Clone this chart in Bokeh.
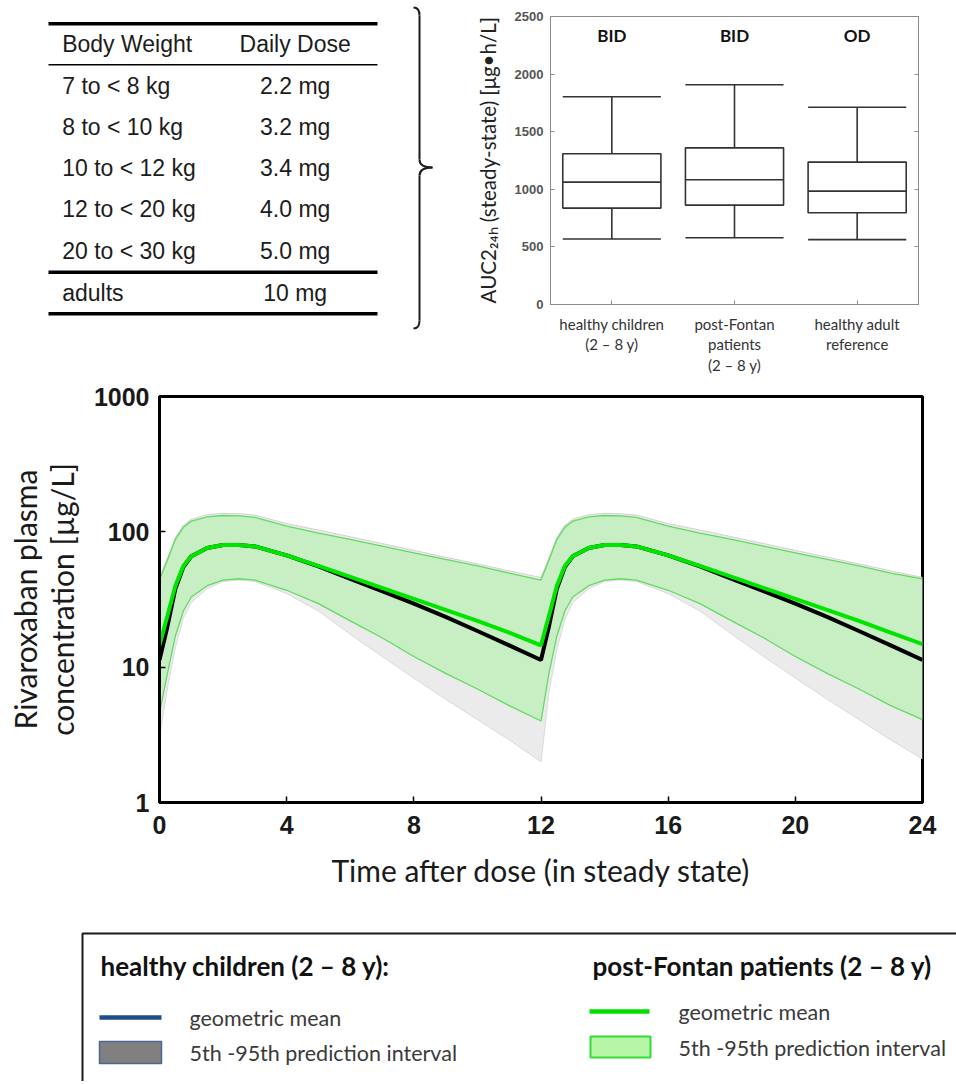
from bokeh.plotting import figure
from bokeh.layouts import column, row
from bokeh.models import (Range1d, FactorRange, ColumnDataSource, FixedTicker,
                          LinearAxis, PrintfTickFormatter)
from bokeh.transform import dodge
from bokeh.core.properties import value
from bokeh.embed import file_html
from bokeh.resources import INLINE

# ---------------- data ----------------
table_header = ["Body Weight", "Daily Dose"]
body_weights = ["7 to < 8 kg", "8 to < 10 kg", "10 to < 12 kg", "12 to < 20 kg", "20 to < 30 kg", "adults"]
daily_doses = ["2.2 mg", "3.2 mg", "3.4 mg", "4.0 mg", "5.0 mg", "10 mg"]

groups = ["healthy children\n(2 – 8 y)", "post-Fontan\npatients\n(2 – 8 y)", "healthy adult\nreference"]
regimens = ["BID", "BID", "OD"]
whisker_low = [569, 580, 563]
q1 = [837, 863, 797]
median = [1062, 1083, 984]
q3 = [1308, 1360, 1236]
whisker_high = [1804, 1908, 1712]
auc_ticks = [0, 500, 1000, 1500, 2000, 2500]

time_h = [0, 0.25, 0.5, 0.75, 1, 1.5, 2, 2.5, 3, 4, 5, 6, 7, 8, 9, 10, 11, 12,
          12.25, 12.5, 12.75, 13, 13.5, 14, 14.5, 15, 16, 17, 18, 19, 20, 21, 22, 23, 24]
hc_mean = [11.3, 20, 38, 55, 66, 76, 80, 80, 78, 67, 55.5, 45, 36.5, 29.5, 23.5, 18.5, 14.5, 11.3,
           20, 38, 55, 66, 76, 80, 80, 78, 67, 55.5, 45, 36.5, 29.5, 23.5, 18.5, 14.5, 11.3]
hc_p5 = [3.0, 7, 14, 23, 30, 38, 43, 44, 43, 35, 26, 17.5, 12, 8.3, 5.8, 4.1, 2.9, 2.0,
         6.5, 13.5, 22.5, 30, 38, 43, 44, 43, 35, 26, 17.5, 12, 8.3, 5.8, 4.1, 2.9, 2.1]
hc_p95 = [46, 64, 91, 112, 124, 134, 137, 136, 133, 115, 103, 92, 82, 73, 65, 58, 51.5, 46,
          64, 91, 112, 124, 134, 137, 136, 133, 115, 103, 92, 82, 73, 65, 58, 51.5, 46]
pf_mean = [14.5, 24, 40, 56, 66, 76, 80, 80, 78, 67, 56, 46.5, 38.5, 32, 26.5, 22, 18, 14.5,
           24, 40, 56, 66, 76, 80, 80, 78, 67, 56, 46.5, 38.5, 32, 26.5, 22, 18, 14.8]
pf_p5 = [4.6, 9, 17, 26, 33, 40, 44, 45, 44, 37, 29.5, 22, 16.5, 12, 9, 6.9, 5.2, 4.0,
         9, 17, 26, 33, 40, 44, 45, 44, 37, 29.5, 22, 16.5, 12, 9, 6.9, 5.2, 4.1]
pf_p95 = [44, 62, 88, 108, 120, 129, 132, 131, 128, 110, 98, 88, 78.5, 70, 62.5, 56, 49.5, 44,
          62, 88, 108, 120, 129, 132, 131, 128, 110, 98, 88, 78.5, 70, 62.5, 56, 49.5, 45]
time_ticks = [0, 4, 8, 12, 16, 20, 24]
conc_ticks = [1, 10, 100, 1000]

legend_groups = ["healthy children (2 – 8 y):", "post-Fontan patients (2 – 8 y)"]
legend_items = ["geometric mean", "5th -95th prediction interval"]

INK = "#1c1c1c"
TOP_H = 377

# ---------------- table + brace ----------------
tf = figure(width=470, height=TOP_H, x_range=Range1d(0, 470), y_range=Range1d(TOP_H, 0),
            x_axis_location=None, y_axis_location=None, output_backend="svg",
            toolbar_location=None, min_border=0, outline_line_color=None)
tf.grid.visible = False
tfont = value("Liberation Sans")
row_y = [85 + 41.25 * i for i in range(len(body_weights) - 1)] + [292.3]
tf.text(x=[61.7], y=[43.3], text=[table_header[0]], text_font=tfont, text_font_size="23px",
        text_color=INK, text_baseline="middle", text_align="left")
tf.text(x=[294.7], y=[43.3], text=[table_header[1]], text_font=tfont, text_font_size="23px",
        text_color=INK, text_baseline="middle", text_align="center")
tf.text(x=[61.7] * len(body_weights), y=row_y, text=body_weights, text_font=tfont,
        text_font_size="23px", text_color=INK, text_baseline="middle", text_align="left")
tf.text(x=[294.7] * len(daily_doses), y=row_y, text=daily_doses, text_font=tfont,
        text_font_size="23px", text_color=INK, text_baseline="middle", text_align="center")
tf.segment(x0=[48, 48, 48], x1=[377, 377, 377], y0=[23.3, 271.7, 313.3], y1=[23.3, 271.7, 313.3],
           line_color="black", line_width=3.5)
tf.segment(x0=[48], x1=[377], y0=[64.3], y1=[64.3], line_color="black", line_width=1.5)
# brace
tf.quadratic(x0=[413, 419, 432, 419], y0=[7, 159, 167, 320],
             x1=[419, 432, 419, 413], y1=[15, 167, 175, 328],
             cx=[419, 419, 419, 419], cy=[7, 167, 167, 328], line_color=INK, line_width=2)
tf.segment(x0=[419, 419], x1=[419, 419], y0=[15, 175], y1=[159, 320], line_color=INK, line_width=2)

# ---------------- box plot ----------------
bf = figure(width=486, height=TOP_H, x_range=FactorRange(*groups), y_range=Range1d(0, 2500),
            output_backend="svg", toolbar_location=None,
            min_border_left=80, min_border_right=38, min_border_top=16, min_border_bottom=73)
bf.grid.visible = False
bf.outline_line_color = "#8c8c8c"
bf.outline_line_width = 1
src = ColumnDataSource(dict(g=groups, lo=whisker_low, q1=q1, med=median, q3=q3, hi=whisker_high,
                            reg=regimens, ly=[2335] * len(groups)))
BOXC = "#333333"
bf.segment(x0="g", y0="lo", x1="g", y1="q1", source=src, line_color=BOXC, line_width=1.6)
bf.segment(x0="g", y0="q3", x1="g", y1="hi", source=src, line_color=BOXC, line_width=1.6)
bf.vbar(x="g", width=0.8, bottom="q1", top="q3", source=src, fill_color="white",
        line_color=BOXC, line_width=1.6)
for col in ["lo", "med", "hi"]:
    bf.segment(x0=dodge("g", -0.4, range=bf.x_range), x1=dodge("g", 0.4, range=bf.x_range),
               y0=col, y1=col, source=src, line_color=BOXC, line_width=1.6)
bf.text(x="g", y="ly", text="reg", source=src, text_font=value("Lato"), text_font_style="bold",
        text_font_size="17px", text_color="#111111", text_align="center", text_baseline="middle")

bf.yaxis.ticker = FixedTicker(ticks=auc_ticks)
bf.yaxis.major_label_text_font = "Liberation Sans"
bf.yaxis.major_label_text_font_style = "bold"
bf.yaxis.major_label_text_font_size = "13px"
bf.yaxis.major_label_text_color = "#555555"
bf.yaxis.major_label_standoff = 7
bf.yaxis.axis_label = "AUC2₂₄ₕ (steady-state) [μg•h/L]"
bf.yaxis.axis_label_text_font = "Lato"
bf.yaxis.axis_label_text_font_style = "normal"
bf.yaxis.axis_label_text_font_size = "20.5px"
bf.yaxis.axis_label_text_color = "#222222"
bf.yaxis.axis_label_standoff = 12
bf.xaxis.major_label_text_font = "Lato"
bf.xaxis.major_label_text_font_size = "15px"
bf.xaxis.major_label_text_color = "#333333"
bf.xaxis.major_label_text_line_height = 1.16
bf.xaxis.major_label_standoff = 10
for ax in [bf.xaxis, bf.yaxis]:
    ax.axis_line_color = "#8c8c8c"
    ax.major_tick_line_color = "#8c8c8c"
    ax.major_tick_in = 4
    ax.major_tick_out = 0
    ax.minor_tick_line_color = None
rax = LinearAxis(ticker=FixedTicker(ticks=auc_ticks), major_label_text_alpha=0,
                 axis_line_color="#8c8c8c", major_tick_line_color="#8c8c8c",
                 major_tick_in=4, major_tick_out=0, minor_tick_line_color=None,
                 major_label_text_font_size="8px")
bf.add_layout(rax, "right")

# ---------------- concentration-time plot ----------------
mf = figure(width=956, height=528, x_range=Range1d(0, 24), y_range=Range1d(1, 1000),
            y_axis_type="log", output_backend="svg", toolbar_location=None,
            min_border_left=159, min_border_right=34, min_border_top=19, min_border_bottom=103)
mf.grid.visible = False
mf.outline_line_color = "black"
mf.outline_line_width = 3
mf.varea(x=time_h, y1=hc_p5, y2=hc_p95, fill_color="#ebebeb")
mf.line(time_h, hc_p5, line_color="#dadada", line_width=1)
mf.line(time_h, hc_p95, line_color="#d8cfd6", line_width=1)
mf.varea(x=time_h, y1=pf_p5, y2=pf_p95, fill_color="#c8efc4")
mf.line(time_h, pf_p5, line_color="#5fdc5f", line_width=1.3)
mf.line(time_h, pf_p95, line_color="#5fdc5f", line_width=1.3)
mf.line(time_h, hc_mean, line_color="black", line_width=4)
mf.line(time_h, pf_mean, line_color="#00e400", line_width=4)

mf.xaxis.ticker = FixedTicker(ticks=time_ticks)
mf.yaxis.ticker = FixedTicker(ticks=conc_ticks)
mf.yaxis.formatter = PrintfTickFormatter(format="%d")
for ax in [mf.xaxis, mf.yaxis]:
    ax.major_label_text_font = "Liberation Sans"
    ax.major_label_text_font_style = "bold"
    ax.major_label_text_font_size = "25px"
    ax.major_label_text_color = "#1a1a1a"
    ax.axis_line_color = "black"
    ax.axis_line_width = 3
    ax.major_tick_line_color = "black"
    ax.major_tick_line_width = 1.5
    ax.major_tick_in = 6
    ax.major_tick_out = 0
    ax.minor_tick_line_color = None
    ax.axis_label_text_font = "Lato"
    ax.axis_label_text_font_style = "normal"
    ax.axis_label_text_font_size = "30px"
    ax.axis_label_text_color = "#1a1a1a"
mf.xaxis.major_label_standoff = 13
mf.yaxis.major_label_standoff = 10
mf.xaxis.axis_label = "Time after dose (in steady state)"
mf.xaxis.axis_label_standoff = 15
mf.yaxis.axis_label = "Rivaroxaban plasma\nconcentration [µg/L]"
mf.yaxis.axis_label_text_line_height = 1.03
mf.yaxis.axis_label_standoff = 11

# ---------------- legend panel ----------------
lf = figure(width=956, height=176, x_range=Range1d(0, 956), y_range=Range1d(176, 0),
            x_axis_location=None, y_axis_location=None, output_backend="svg",
            toolbar_location=None, min_border=0, outline_line_color=None)
lf.grid.visible = False
lf.line(x=[82, 82, 980], y=[200, 28, 28], line_color="#1a1a1a", line_width=2)
lfont = value("Lato")
lf.text(x=[100, 592], y=[60, 60], text=legend_groups, text_font=lfont, text_font_style="bold",
        text_font_size="26px", text_color="#111111", text_baseline="middle", text_align="left")
lf.text(x=[189, 189, 678, 678], y=[112, 147, 106, 142],
        text=[legend_items[0], legend_items[1], legend_items[0], legend_items[1]],
        text_font=lfont, text_font_size="21.5px", text_color="#3a3a3a",
        text_baseline="middle", text_align="left")
lf.segment(x0=[99], x1=[161], y0=[112], y1=[112], line_color="#1f4e8c", line_width=4.5)
lf.segment(x0=[589], x1=[649], y0=[106], y1=[106], line_color="#00e000", line_width=4.5)
lf.quad(left=[99], right=[161], top=[136], bottom=[158], fill_color="#808080",
        line_color="#4a6796", line_width=1.5)
lf.quad(left=[590], right=[650], top=[131], bottom=[152], fill_color="#b6f6a6",
        line_color="#33dd33", line_width=2)

layout = column(row(column(tf), column(bf)), column(mf), column(lf))
open("out.html", "w").write(file_html(layout, INLINE))
